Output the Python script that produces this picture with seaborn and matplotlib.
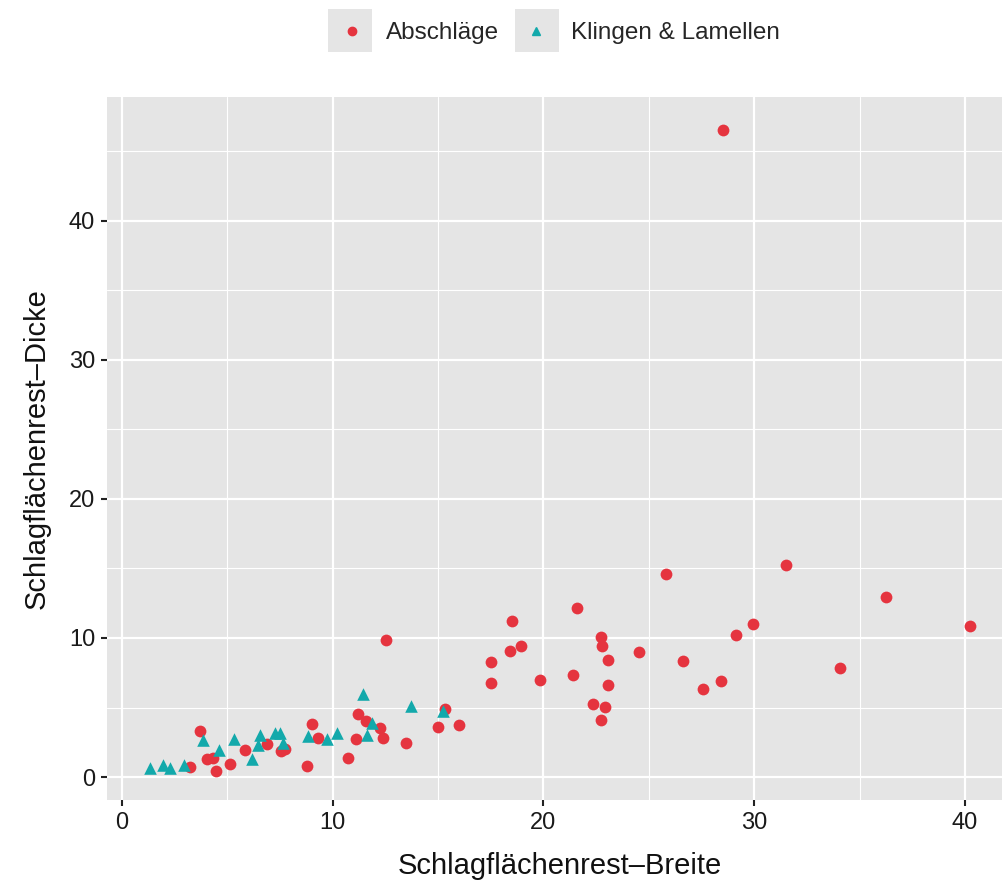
import numpy as np
import pandas as pd
import matplotlib
matplotlib.use("Agg")
import matplotlib.pyplot as plt
from matplotlib.patches import Rectangle
from matplotlib.lines import Line2D
import seaborn as sns

# Data
abschlaege_x = [3.23, 3.70, 4.05, 4.33, 4.46, 5.13, 5.85, 6.87, 7.55, 7.74, 8.77, 9.03, 9.29,
                10.74, 11.09, 11.19, 11.58, 12.26, 12.37, 12.53, 13.49, 15.00, 15.33, 15.98,
                17.50, 17.50, 18.40, 18.50, 18.94, 19.84, 21.40, 21.58, 22.35, 22.74, 22.78,
                22.74, 22.92, 23.07, 23.07, 24.55, 25.82, 26.62, 27.57, 28.44, 28.52, 29.12,
                29.95, 31.52, 34.08, 36.25, 40.25]
abschlaege_y = [0.70, 3.31, 1.29, 1.35, 0.43, 0.91, 1.92, 2.37, 1.89, 2.05, 0.81, 3.81, 2.83,
                1.36, 2.72, 4.50, 4.04, 3.56, 2.80, 9.85, 2.48, 3.63, 4.91, 3.76,
                8.27, 6.73, 9.06, 11.22, 9.45, 6.98, 7.32, 12.15, 5.25, 10.04, 9.40,
                4.11, 5.06, 8.44, 6.60, 8.99, 14.60, 8.33, 6.33, 6.94, 46.55, 10.22,
                11.03, 15.28, 7.84, 12.98, 10.86]
klingen_x = [1.33, 1.93, 2.28, 2.94, 3.86, 4.62, 5.33, 6.15, 6.47, 6.55, 7.26, 7.50, 7.66,
             8.84, 9.71, 10.19, 11.45, 11.61, 11.87, 13.70, 15.22]
klingen_y = [0.67, 0.86, 0.62, 0.86, 2.66, 1.94, 2.73, 1.33, 2.30, 3.02, 3.19, 3.14, 2.47,
             2.95, 2.77, 3.17, 5.98, 3.02, 3.90, 5.10, 4.77]

categories = ["Abschläge", "Klingen & Lamellen"]
colors = {"Abschläge": "#E5343F", "Klingen & Lamellen": "#13A9AB"}
markers = {"Abschläge": "o", "Klingen & Lamellen": "^"}
x_ticks = [0, 10, 20, 30, 40]
y_ticks = [0, 10, 20, 30, 40]

df = pd.DataFrame({
    "x": abschlaege_x + klingen_x,
    "y": abschlaege_y + klingen_y,
    "Typ": [categories[0]] * len(abschlaege_x) + [categories[1]] * len(klingen_x),
})

sns.set_theme(style="white")
plt.rcParams["font.family"] = ["Liberation Sans", "DejaVu Sans"]

W, H = 1003, 890
fig = plt.figure(figsize=(W / 100, H / 100), dpi=100)
xmin, xmax = -0.71, 42.25
ymin, ymax = -1.65, 48.9
left_px, top_px, bottom_px = 107, 97, 800
ppu = (965 - 122) / 40.0
width_px = (xmax - xmin) * ppu
ax = fig.add_axes([left_px / W, (H - bottom_px) / H, width_px / W, (bottom_px - top_px) / H])
ax.set_facecolor("#E5E5E5")

sns.scatterplot(data=df[df["Typ"] == categories[0]], x="x", y="y", color=colors[categories[0]],
                marker="o", s=72, linewidth=0, ax=ax, legend=False, zorder=3)
sns.scatterplot(data=df[df["Typ"] == categories[1]], x="x", y="y", color=colors[categories[1]],
                marker="^", s=82, linewidth=0, ax=ax, legend=False, zorder=3)

ax.set_xlim(xmin, xmax)
ax.set_ylim(ymin, ymax)
ax.set_xticks(x_ticks)
ax.set_yticks(y_ticks)
ax.set_xticks([5, 15, 25, 35], minor=True)
ax.set_yticks([5, 15, 25, 35, 45], minor=True)
ax.grid(which="major", color="white", linewidth=1.6, zorder=0)
ax.grid(which="minor", color="white", linewidth=0.8, zorder=0)
ax.set_axisbelow(True)
for s in ax.spines.values():
    s.set_visible(False)
ax.tick_params(axis="both", which="major", length=4.5, width=1.5, color="#222222",
               labelsize=17, labelcolor="#1a1a1a", pad=4, direction="out",
               bottom=True, left=True)
ax.tick_params(axis="both", which="minor", length=0)

ax.set_xlabel("Schlagflächenrest–Breite", fontsize=21, color="#111111", labelpad=13)
ax.set_ylabel("Schlagflächenrest–Dicke", fontsize=21, color="#111111", labelpad=13)

# legend at top
handles = [Line2D([], [], marker=markers[c], color=colors[c], linestyle="none", markersize=6)
           for c in categories]
leg = fig.legend(handles, categories, loc="center", bbox_to_anchor=(556 / W, 1 - 33 / H),
                 ncol=2, frameon=False, fontsize=17.5, handlelength=1.6, handletextpad=0.62,
                 columnspacing=0.72, borderpad=0)
for x0 in (328, 515):
    fig.patches.append(Rectangle((x0 / W, 1 - 52 / H), 44 / W, 43 / H,
                                 transform=fig.transFigure, facecolor="#E5E5E5",
                                 edgecolor="none", zorder=0))

fig.savefig("out.png", dpi=100)
